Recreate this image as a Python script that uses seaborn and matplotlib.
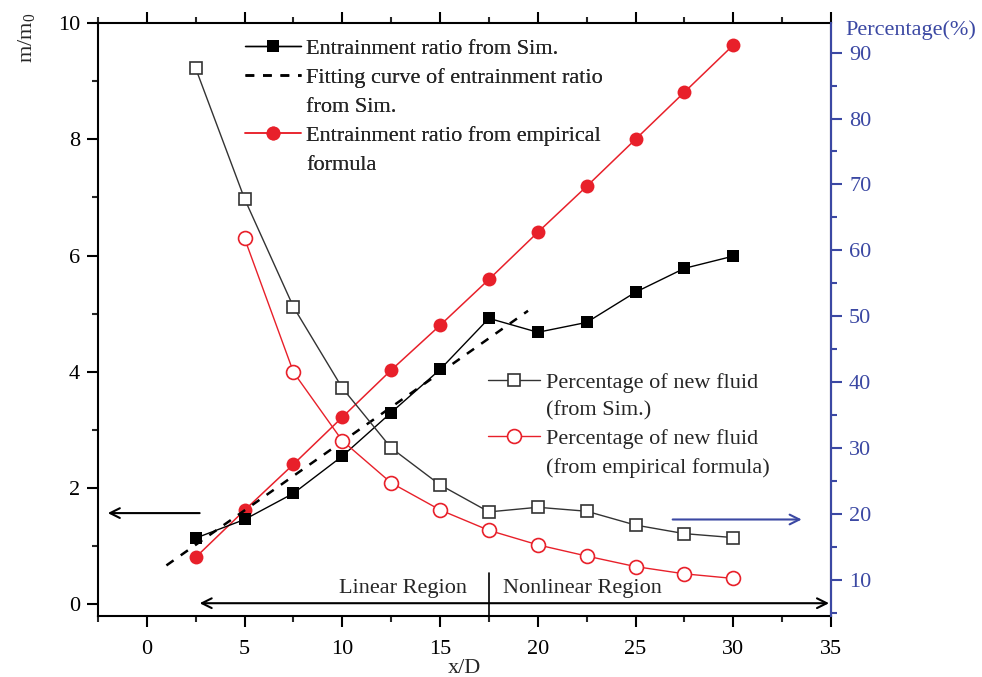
import numpy as np
import pandas as pd
import matplotlib
matplotlib.use("Agg")
import matplotlib.pyplot as plt
from matplotlib.ticker import MultipleLocator
from matplotlib.lines import Line2D
import seaborn as sns

# ---------------- data ----------------
x_d = [2.5, 5, 7.5, 10, 12.5, 15, 17.5, 20, 22.5, 25, 27.5, 30]
ratio_sim = [1.14, 1.46, 1.91, 2.55, 3.30, 4.04, 4.92, 4.68, 4.85, 5.37, 5.78, 5.99]
ratio_emp = [0.81, 1.62, 2.41, 3.22, 4.03, 4.80, 5.59, 6.40, 7.19, 8.00, 8.81, 9.62]
fit_x = [1.0, 19.5]
fit_y = [0.67, 5.05]
pct_sim = [87.6, 67.8, 51.4, 39.1, 30.0, 24.4, 20.3, 21.0, 20.4, 18.3, 17.0, 16.4]
x_pct_emp = [5, 7.5, 10, 12.5, 15, 17.5, 20, 22.5, 25, 27.5, 30]
pct_emp = [61.8, 41.5, 31.1, 24.7, 20.6, 17.5, 15.3, 13.6, 12.0, 10.9, 10.2]

labels = [
    "Entrainment ratio from Sim.",
    "Fitting curve of entrainment ratio\nfrom Sim.",
    "Entrainment ratio from empirical\nformula",
    "Percentage of new fluid\n(from Sim.)",
    "Percentage of new fluid\n(from empirical formula)",
]

BLUE = "#3b48a3"
RED = "#e8202a"
FS = 16

sns.set_style("ticks")
plt.rcParams["font.family"] = ["Liberation Serif", "DejaVu Serif"]
plt.rcParams["mathtext.fontset"] = "stix"

fig = plt.figure(figsize=(9.82, 6.77), dpi=100)
ax = fig.add_axes([98 / 982, 1 - 616 / 677, (831 - 98) / 982, (616 - 23) / 677])
ax2 = ax.twinx()

df1 = pd.DataFrame({"x": x_d, "y": ratio_sim})
df2 = pd.DataFrame({"x": x_d, "y": ratio_emp})
dff = pd.DataFrame({"x": fit_x, "y": fit_y})
df3 = pd.DataFrame({"x": x_d, "y": pct_sim})
df4 = pd.DataFrame({"x": x_pct_emp, "y": pct_emp})

sns.lineplot(data=df2, x="x", y="y", ax=ax, color=RED, lw=1.1, marker="o",
             markersize=10, markeredgewidth=0, label=labels[2], zorder=3)
sns.lineplot(data=df1, x="x", y="y", ax=ax, color="black", lw=1.0, marker="s",
             markersize=9, markeredgewidth=0, label=labels[0], zorder=4)
sns.lineplot(data=dff, x="x", y="y", ax=ax, color="black", lw=1.8,
             linestyle=(0, (3.5, 3.5)), label=labels[1], zorder=5)

sns.lineplot(data=df3, x="x", y="y", ax=ax2, color="#333333", lw=1.0, marker="s",
             markersize=9, markerfacecolor="white", markeredgecolor="#333333",
             markeredgewidth=1.2, label=labels[3])
sns.lineplot(data=df4, x="x", y="y", ax=ax2, color=RED, lw=1.0, marker="o",
             markersize=10, markerfacecolor="white", markeredgecolor=RED,
             markeredgewidth=1.2, label=labels[4])

# ---------------- axes ----------------
ax.set_xlim(-2.5, 35)
ax.set_ylim(-0.2, 10)
ax2.set_ylim(4.5, 94.5)
ax.set_xticks([0, 5, 10, 15, 20, 25, 30, 35])
ax.xaxis.set_minor_locator(MultipleLocator(2.5))
ax.set_yticks([0, 2, 4, 6, 8, 10])
ax.yaxis.set_minor_locator(MultipleLocator(1))
ax2.set_yticks([10, 20, 30, 40, 50, 60, 70, 80, 90])
ax2.yaxis.set_minor_locator(MultipleLocator(5))

for s in ax.spines.values():
    s.set_linewidth(1.5)
    s.set_color("black")
for s in ax2.spines.values():
    s.set_linewidth(1.5)
ax2.spines["right"].set_color(BLUE)
ax2.spines["left"].set_visible(False)
ax2.spines["top"].set_visible(False)
ax2.spines["bottom"].set_visible(False)

ax.tick_params(axis="both", which="major", direction="out", length=8, width=1.5,
               labelsize=FS, colors="black", top=True, right=False)
ax.tick_params(axis="both", which="minor", direction="out", length=4, width=1.5,
               top=True, right=False)
ax.tick_params(axis="x", which="major", pad=9)
ax.tick_params(axis="y", which="major", pad=5)
ax2.tick_params(axis="y", which="major", direction="out", length=8, width=1.5,
                labelsize=FS, colors=BLUE, pad=5)
ax2.tick_params(axis="y", which="minor", direction="out", length=4, width=1.5,
                colors=BLUE)

ax.set_xlabel("x/D", fontsize=FS)
ax.xaxis.set_label_coords(0.5, -0.072)
ax.set_ylabel(r"m/m$_\mathregular{0}$", fontsize=FS)
ax.yaxis.set_label_coords(-0.083, 0.975)
ax2.set_ylabel("Percentage(%)", fontsize=FS, color=BLUE, rotation=0,
               ha="left", va="center")
ax2.yaxis.set_label_coords(1.019, 0.988)

# ---------------- legends ----------------
h1, l1 = ax.get_legend_handles_labels()
h2, l2 = ax2.get_legend_handles_labels()
hd = dict(zip(l1 + l2, h1 + h2))
if ax.get_legend():
    ax.get_legend().remove()
if ax2.get_legend():
    ax2.get_legend().remove()


def rows(keys):
    """Split multi-line labels into rows; handle sits on the first line."""
    hs, ls = [], []
    for k in keys:
        parts = k.split("\n")
        hs.append(hd[k])
        ls.append(parts[0])
        for p in parts[1:]:
            hs.append(Line2D([], [], color="none"))
            ls.append(p)
    return hs, ls


hs1, ls1 = rows(labels[:3])
leg1 = ax.legend(hs1, ls1, loc="upper left",
                 bbox_to_anchor=(245 / 982, 1 - 38 / 677),
                 bbox_transform=fig.transFigure, frameon=False, fontsize=FS,
                 handlelength=2.5, handletextpad=0.25, borderpad=0,
                 borderaxespad=0, labelspacing=0.38)
ax.add_artist(leg1)
hs2, ls2 = rows(labels[3:])
leg2 = ax2.legend(hs2, ls2, loc="upper left",
                  bbox_to_anchor=(488 / 982, 1 - 372 / 677),
                  bbox_transform=fig.transFigure, frameon=False, fontsize=FS,
                  handlelength=2.35, handletextpad=0.25, borderpad=0,
                  borderaxespad=0, labelspacing=0.35)

# ---------------- annotations ----------------
arr = dict(arrowstyle="->,head_length=0.7,head_width=0.35", lw=1.5, color="black",
           shrinkA=0, shrinkB=0)
ax.annotate("", xy=(-2.0, 1.57), xytext=(2.7, 1.57), arrowprops=arr)
arr_b = dict(arr, color=BLUE)
ax.annotate("", xy=(33.5, 1.46), xytext=(26.9, 1.46), arrowprops=arr_b)
ax.annotate("", xy=(34.9, 0.02), xytext=(2.7, 0.02),
            arrowprops=dict(arrowstyle="<->,head_length=0.7,head_width=0.35",
                            lw=1.5, color="black", shrinkA=0, shrinkB=0))
ax.axvline(17.5, ymin=0, ymax=0.073, color="black", lw=1.2)
ax.text(16.4, 0.28, "Linear Region", ha="right", va="center", fontsize=FS)
ax.text(18.2, 0.28, "Nonlinear Region", ha="left", va="center", fontsize=FS)

fig.savefig("out.png", dpi=100)
